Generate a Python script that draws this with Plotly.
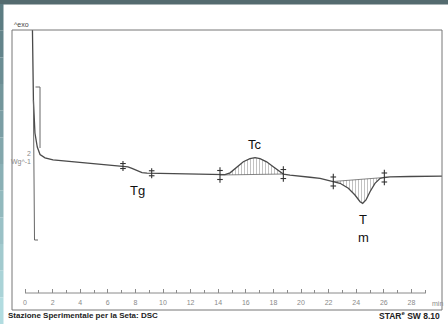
import numpy as np
import plotly.graph_objects as go

# ---------------- data ----------------
time_min = [0.53, 0.565, 0.61, 0.72, 0.89, 1.09, 1.45, 2.03, 4.20, 5.43, 6.88,
            7.10, 7.46, 7.75, 8.12, 8.48, 8.84, 9.18, 9.78, 11.45, 12.68,
            14.13, 14.49, 14.86, 15.34, 15.82, 16.30, 16.67, 17.03, 17.51, 17.99, 18.48, 18.72,
            19.20, 19.93, 20.65, 21.38,
            22.34, 22.83, 23.43, 23.91, 24.28, 24.47, 24.71, 25.00, 25.36, 25.72, 26.04,
            26.45, 27.90, 30.14, 30.51]
heat_flow = [2.053, 1.523, 0.993, 0.556, 0.371, 0.272, 0.228, 0.199, 0.166, 0.146, 0.122,
             0.119, 0.109, 0.089, 0.057, 0.032, 0.024, 0.023, 0.020, 0.013, 0.007,
             0.000, 0.005, 0.029, 0.109, 0.176, 0.216, 0.229, 0.216, 0.175, 0.110, 0.044, 0.013,
             -0.003, -0.013, -0.030, -0.046,
             -0.086, -0.110, -0.176, -0.265, -0.354, -0.375, -0.331, -0.221, -0.110, -0.046, -0.033,
             -0.026, -0.020, -0.013, -0.013]

tg_limits = [7.10, 9.18]
tc_limits = [14.13, 18.72]
tm_limits = [22.34, 26.04]

tick_major = list(range(0, 29, 2))
tick_labels = [str(v) for v in tick_major]
tick_minor = list(range(1, 30, 2))

# ---------------- geometry helpers (pixel -> data, for decorations) ----------------
W, H = 448, 324
ML, MR, MT, MB = 12, 6, 30, 14
def tx(px):
    return (px - 25) / 13.8
def vy(py):
    return (175 - py) / 75.5
def pxp(px):
    return (px - ML) / (W - ML - MR)
def pyp(py):
    return (H - MB - py) / (H - MT - MB)

t = np.array(time_min)
q = np.array(heat_flow)

LINE = "#4a4a4a"
GRAY = "#8a8a8a"
FONT = "Liberation Sans"

fig = go.Figure()

# hatched peak areas
for lim in (tc_limits, tm_limits):
    m = (t >= lim[0] - 1e-9) & (t <= lim[1] + 1e-9)
    base_y = np.interp(lim, t, q)
    fig.add_trace(go.Scatter(x=lim, y=base_y, mode="lines",
                             line=dict(color="#666", width=0.8), hoverinfo="skip", showlegend=False))
    fig.add_trace(go.Scatter(x=t[m], y=q[m], mode="lines", line=dict(width=0),
                             fill="tonexty", fillcolor="rgba(0,0,0,0)",
                             fillpattern=dict(shape="|", size=3, solidity=0.3,
                                              fgcolor="#777", bgcolor="rgba(255,255,255,0)"),
                             hoverinfo="skip", showlegend=False))

# main curve
fig.add_trace(go.Scatter(x=time_min, y=heat_flow, mode="lines",
                         line=dict(color=LINE, width=1.3), showlegend=False))

# integration limit markers
for lim, size in ((tg_limits, 7), (tc_limits, 11), (tm_limits, 11)):
    yy = np.interp(lim, t, q)
    fig.add_trace(go.Scatter(x=lim, y=yy, mode="markers",
                             marker=dict(symbol="line-ns", size=size, line=dict(width=1.1, color="#333")),
                             showlegend=False, hoverinfo="skip"))
    off = (size / 2 - 1) / 75.5
    fig.add_trace(go.Scatter(x=list(lim) * 2, y=list(yy + off) + list(yy - off), mode="markers",
                             marker=dict(symbol="line-ew", size=4, line=dict(width=1.1, color="#333")),
                             showlegend=False, hoverinfo="skip"))

shapes = []
# page border bands
shapes.append(dict(type="rect", xref="paper", yref="paper", x0=pxp(0), x1=pxp(W), y0=pyp(4.5), y1=pyp(0),
                   fillcolor="#546b6f", line=dict(width=0), layer="above"))
n = 12
for i in range(n):
    y0p = 4 + (H - 4) * i / n
    y1p = 4 + (H - 4) * (i + 1) / n
    f = i / (n - 1)
    r = int(0x5c + (0xb2 - 0x5c) * f)
    g = int(0x7c + (0xdc - 0x7c) * f)
    b = int(0x82 + (0xe0 - 0x82) * f)
    shapes.append(dict(type="rect", xref="paper", yref="paper", x0=pxp(0), x1=pxp(3.5),
                       y0=pyp(y1p), y1=pyp(y0p), fillcolor=f"rgb({r},{g},{b})",
                       line=dict(width=0), layer="above"))
# frame
shapes.append(dict(type="rect", xref="paper", yref="paper", x0=0, x1=1, y0=0, y1=1,
                   line=dict(color="#777", width=1)))
# axis line
axis_pos = pyp(293)
shapes.append(dict(type="line", xref="x", yref="paper", x0=0, x1=29.05, y0=axis_pos, y1=axis_pos,
                   line=dict(color=GRAY, width=1)))
# scale bar + start line
shapes.append(dict(type="line", xref="x", yref="y", x0=tx(33.4), x1=tx(34.5), y0=vy(100), y1=vy(240),
                   line=dict(color="#666", width=1)))
shapes.append(dict(type="line", xref="x", yref="y", x0=tx(34.5), x1=tx(38), y0=vy(240), y1=vy(240),
                   line=dict(color="#666", width=1)))
shapes.append(dict(type="line", xref="x", yref="y", x0=tx(35.5), x1=tx(40), y0=vy(87), y1=vy(87),
                   line=dict(color="#666", width=1)))
shapes.append(dict(type="line", xref="x", yref="y", x0=tx(40), x1=tx(40), y0=vy(87), y1=vy(148),
                   line=dict(color="#666", width=1)))

ann = []
def label(text, x, y, size=13, color="#111", xref="x", yref="y", xanchor="center", **kw):
    ann.append(dict(text=text, x=x, y=y, xref=xref, yref=yref, showarrow=False, xanchor=xanchor,
                    yanchor="middle", font=dict(family=FONT, size=size, color=color), **kw))

label("Tc", tx(255), vy(144))
label("Tg", tx(137), vy(190))
label("T", tx(363), vy(219))
label("m", tx(363), vy(237))
label("^exo", pxp(12), pyp(24), size=7, color="#444", xref="paper", yref="paper", xanchor="left")
label("2", pxp(33), pyp(153), size=7, color=GRAY, xref="paper", yref="paper", xanchor="right")
label("Wg^-1", pxp(33), pyp(162), size=7, color=GRAY, xref="paper", yref="paper", xanchor="right")
label("min", 29.35, pyp(303), size=7, color=GRAY, yref="paper", xanchor="left")
label("<b>Stazione Sperimentale per la Seta: DSC</b>", pxp(6), pyp(315.5), size=8, color="#222",
      xref="paper", yref="paper", xanchor="left")
label("<b>STAR<sup>e</sup> SW 8.10</b>", pxp(442), pyp(315.5), size=8.5, color="#222",
      xref="paper", yref="paper", xanchor="right")

fig.update_layout(
    width=W, height=H, autosize=False,
    margin=dict(l=ML, r=MR, t=MT, b=MB, pad=0),
    paper_bgcolor="white", plot_bgcolor="white",
    showlegend=False,
    xaxis=dict(range=[tx(ML), tx(W - MR)], anchor="free", position=axis_pos,
               showgrid=False, zeroline=False, showline=False,
               tickmode="array", tickvals=tick_major, ticktext=tick_labels,
               ticks="inside", ticklen=4, tickwidth=1, tickcolor=GRAY,
               ticklabelstandoff=4,
               tickfont=dict(family=FONT, size=7, color=GRAY),
               minor=dict(tickvals=tick_minor, ticks="inside", ticklen=3, tickcolor=GRAY)),
    yaxis=dict(range=[vy(H - MB), vy(MT)], visible=False, showgrid=False, zeroline=False),
    shapes=shapes, annotations=ann,
)

fig.write_html("out.html", config={"displayModeBar": False},
               post_script="document.body.style.margin='0';document.body.style.overflow='hidden';")
